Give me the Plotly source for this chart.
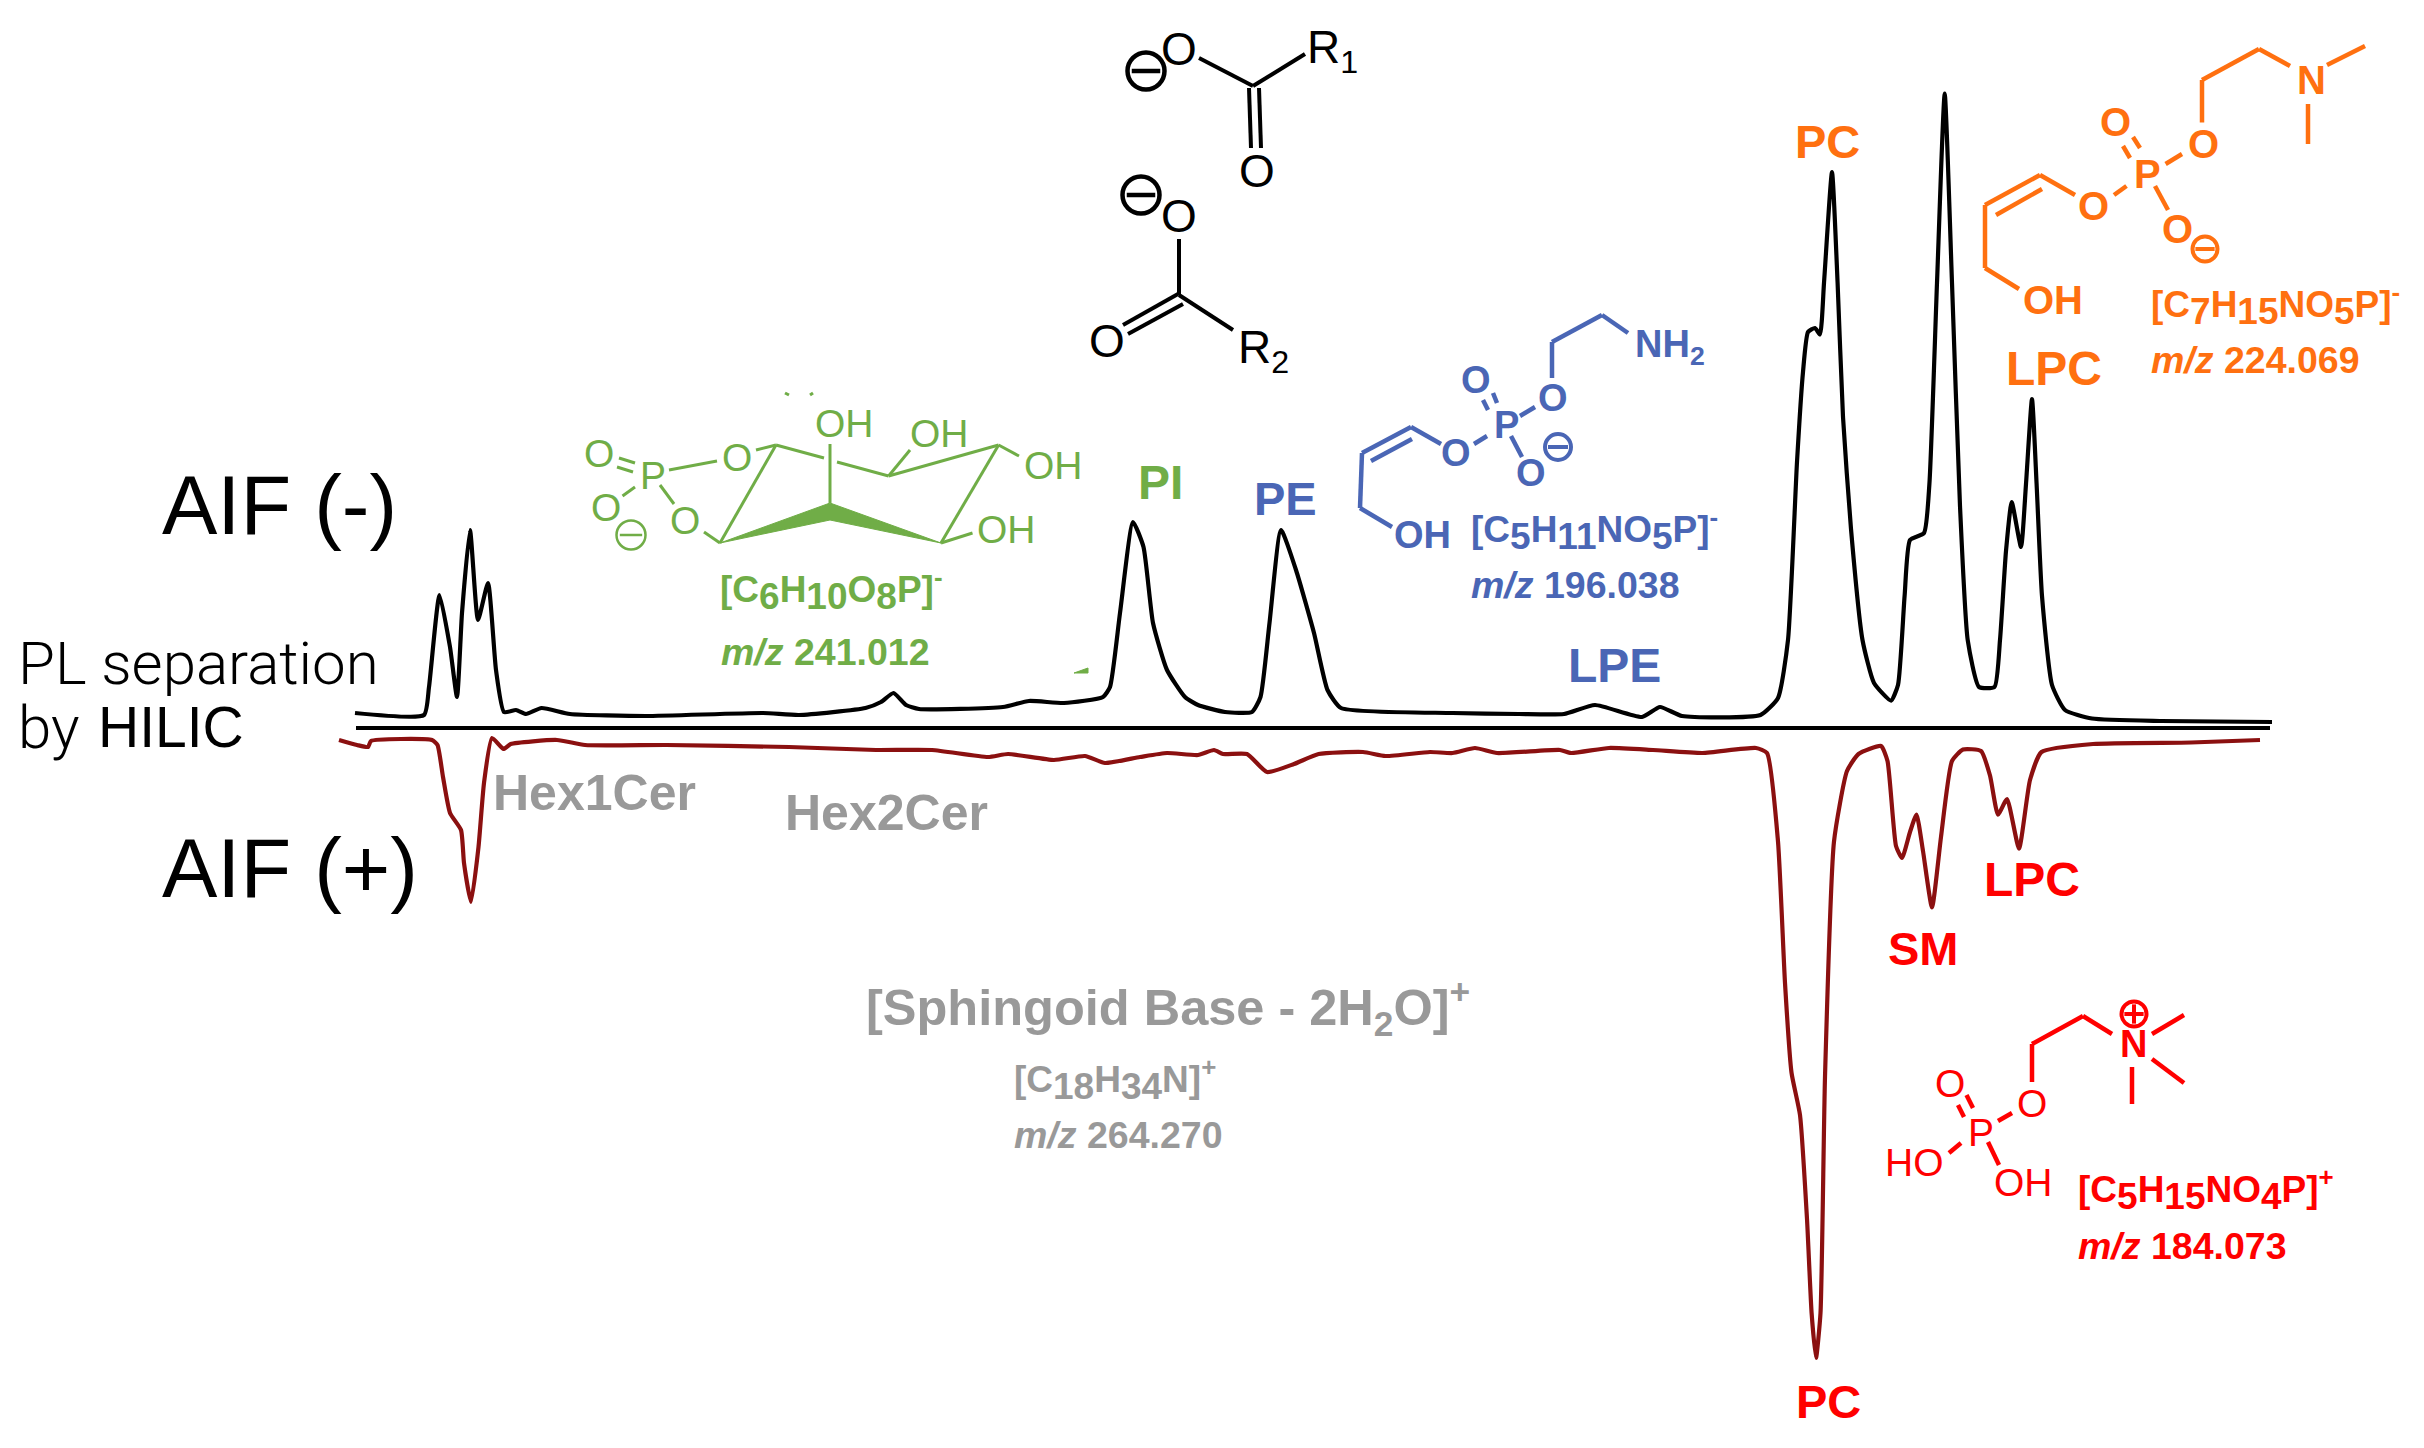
import plotly.graph_objects as go

# ---- chromatogram traces (axis units = image pixels)
neg_x = [355,424,429,439.5,450,457,462,470,478,488,496,504,516,526,541.5,570,646,763,799,865.5,881,893.5,906,919,1003,1029,1064,1103,1110,1120,1133,1143.5,1153,1167,1185,1198,1225,1252,1260.5,1269.5,1281,1296,1314,1327.5,1341,1452.5,1519,1564,1595,1642,1660,1682,1760.5,1778,1788,1797,1803,1808,1815,1820,1824,1832,1837.6,1843,1851,1862.5,1874,1891,1898,1904.6,1910,1924,1929.4,1937,1944.7,1952,1960,1967.7,1979,1994.5,2000,2006,2011.7,2021,2026,2032,2036.6,2042,2052,2065,2092,2161,2272]
neg_y = [713,715,687,595,647,697,613,530,620,583,670,712,710,714,708,714,716,713,715,708,702,693,705,709,707,701,703,697,687,613,522,547,623,670,697,705,712,712,697,623,530,570,633,690,708,713,714,714,705,717,707,716,715,698,640,462,372,332,328,334.5,283,172,283,417,529,640,683,700.6,685,596,540,533,484,283,93.5,283,506,640,687,687,640,551,502,547,484,399,484,596,685,710,718.5,721,722]
pos_x = [339,357,368,371,432,437.5,443,450,461,464,471,478.5,484,492,503.5,510.7,557,585,666.5,789,876,932,988,1008,1054,1085,1105,1140,1167,1198,1214,1223,1247,1267,1294,1318.6,1363,1385.5,1430,1452.5,1475,1497,1560,1571,1609,1653,1702.5,1756,1767,1778,1785,1791.5,1800,1807,1811.6,1816,1820.5,1825,1834,1847,1858.5,1881,1887.5,1896,1902,1910,1916.5,1923,1932,1941,1952,1963,1981,1990,1998,2007,2019,2030,2041.5,2093,2191,2260]
pos_y = [740,745,747,741,740,745,777,813,830,863,902,847,783,738,749,744,740,745,745,747,750,750,757,754,760,756,763,757,753,755,750,754,754,772,764,754,752,756,752,753,748,753,750,753,748,750,753,748,753,841.5,983,1072.6,1115,1219,1313,1358,1313,1077,841.5,771,754,746,761,846,858,832,814.6,851,907.5,837,761,749.5,751,775.5,814.6,799,848.6,780,752,744,742.5,740]
axis_x = [356, 2270]
axis_y = [728, 728]

# ---- colours
BLACK, DARKRED = "#000000", "#8b1010"
GREEN, BLUE, ORANGE, RED, GRAY = "#70ad47", "#4a66b5", "#ff7010", "#ff0000", "#999999"

# ---- structure bonds: ((x1,y1),(x2,y2))
black_bonds = [((1199,58),(1253,86)),((1253,86),(1305,54)),((1249,88),(1251,148)),((1259,88),(1261,148)),
               ((1179,239),(1179,295)),((1179,295),(1233,330)),((1178,294),(1123,325)),((1183,304),(1128,334))]
green_bonds = [((619,458),(635,463)),((617,467),(633,472)),((669,470),(717,461)),((622.5,496),(635,487)),
               ((660,485),(674,504)),((704,532),(720,543)),((720,543),(776,445)),((756,450),(776,445)),
               ((776,445),(824,458)),((837,462),(888.6,476)),((830,444),(830,503)),((888.6,476),(910,450)),
               ((888.6,476),(998.6,445)),((998.6,445),(1019,456)),((998.6,445),(941,543)),((941,543),(972.5,533)),
               ((785,393),(789,395)),((810,395),(813,393))]
green_wedge_x = [720,830,941,830,720]
green_wedge_y = [543,503,543,520,543]
green_speck_x = [1074,1088,1088,1074]
green_speck_y = [673,668,673,673]
blue_bonds = [((1360,508),(1392,527)),((1360,508),(1362,453)),((1362,453),(1411,427)),((1371,461),(1412,439)),
              ((1411,427),(1441,444)),((1474,444),(1487,436)),((1483,400),(1488,410)),((1493,393),(1497,403)),
              ((1520,416),(1535,407)),((1552,378),(1552,342)),((1552,342),(1602,315)),((1602,315),(1628,333)),
              ((1511,436),(1522,457))]
orange_bonds = [((1985,268),(2019,289)),((1985,268),(1985,205)),((1985,205),(2040,175)),((1996,215),(2042,189)),
                ((2040,175),(2075,195)),((2114,195),(2126.5,186)),((2123,146),(2130,158)),((2133,137),(2140,148)),
                ((2165.6,164),(2182,154)),((2155,186),(2168,210)),((2202,122.5),(2202,80)),((2202,80),(2259,49)),
                ((2259,49),(2290,66)),((2327,65),(2365,46)),((2308,104),(2308,144))]
red_bonds = [((2032,1082),(2032,1044)),((2032,1044),(2083,1016)),((2083,1016),(2112,1034)),((2152,1034),(2184,1015)),
             ((2152,1059),(2184,1083)),((2132,1067),(2132,1104)),((1998,1121),(2012,1113)),((1966.5,1095),(1973,1108)),
             ((1958,1105),(1964,1117)),((1949,1153),(1961,1143)),((1988,1142),(1999,1165))]

# ---- charges: x, y, colour, size, line width, minus or plus
charge_x = [1146,1141,631,1558,2205,2134]
charge_y = [71,195,535,447,249,1014]
charge_color = [BLACK,BLACK,GREEN,BLUE,ORANGE,RED]
charge_size = [37,37,29,26,25,25]
charge_lw = [4.5,4.5,2.5,4,4,4]
charge_sign = ["minus","minus","minus","minus","minus","plus"]

def big(s, size):
    return f'<span style="font-size:{size}px">{s}</span>'

def formula(parts, size, sign):
    out = ""
    for p in parts:
        out += f"<sub>{big(p[1:], size)}</sub>" if p.startswith("_") else p
    return f"<b>{out}</b><sup><b>{sign}</b></sup>"

F_SIZE = 37
M_SIZE = 37.5
# ---- text: (text, x, y, colour, size, xanchor, bold)
labels = [
    ("AIF (-)",162,505,BLACK,83,"left",False),
    ("AIF (+)",162,868,BLACK,83,"left",False),
    ("Hex1Cer",594,793,GRAY,50,"center",True),
    ("Hex2Cer",886,813,GRAY,50,"center",True),
    ("PI",1160,482,GREEN,48,"center",True),
    ("PE",1285,498,BLUE,47,"center",True),
    ("LPE",1614,665,BLUE,48,"center",True),
    ("PC",1827,141,ORANGE,47,"center",True),
    ("LPC",2054,368,ORANGE,48,"center",True),
    ("SM",1923,948,RED,47,"center",True),
    ("LPC",2032,879,RED,48,"center",True),
    ("PC",1828,1401,RED,47,"center",True),
    ("[Sphingoid Base - 2H<sub>2</sub>O]<sup>+</sup>",866,1007,GRAY,50.5,"left",True),
    (formula(["[C","_18","H","_34","N]"],F_SIZE,"+"),1014,1080,GRAY,F_SIZE,"left",False),
    ("<b><i>m/z</i> 264.270</b>",1014,1135,GRAY,M_SIZE,"left",False),
    (formula(["[C","_6","H","_10","O","_8","P]"],F_SIZE,"-"),720,590,GREEN,F_SIZE,"left",False),
    ("<b><i>m/z</i> 241.012</b>",721,652,GREEN,M_SIZE,"left",False),
    (formula(["[C","_5","H","_11","NO","_5","P]"],F_SIZE,"-"),1471,530,BLUE,F_SIZE,"left",False),
    ("<b><i>m/z</i> 196.038</b>",1471,585,BLUE,M_SIZE,"left",False),
    (formula(["[C","_7","H","_15","NO","_5","P]"],F_SIZE,"-"),2151,305,ORANGE,F_SIZE,"left",False),
    ("<b><i>m/z</i> 224.069</b>",2151,360,ORANGE,M_SIZE,"left",False),
    (formula(["[C","_5","H","_15","NO","_4","P]"],F_SIZE,"+"),2078,1190,RED,F_SIZE,"left",False),
    ("<b><i>m/z</i> 184.073</b>",2078,1246,RED,M_SIZE,"left",False),
]
atoms = [
    # black
    ("O",1179,49,BLACK,46,False),("O",1257,171,BLACK,46,False),("R<sub>1</sub>",1332,50,BLACK,46,False),
    ("O",1179,216,BLACK,46,False),("O",1107,341,BLACK,46,False),("R<sub>2</sub>",1263,350,BLACK,46,False),
    # green
    ("O",599,453,GREEN,39,False),("P",653,475,GREEN,39,False),("O",606,507,GREEN,39,False),("O",737,457,GREEN,39,False),("O",685,520,GREEN,39,False),
    ("OH",844,423,GREEN,39,False),("OH",939,433,GREEN,39,False),("OH",1053,465,GREEN,39,False),("OH",1006,529,GREEN,39,False),
    # blue
    ("OH",1422,535,BLUE,38,True),("O",1456,453,BLUE,38,True),("P",1506,425,BLUE,38,True),("O",1476,380,BLUE,38,True),
    ("O",1553,398,BLUE,38,True),("O",1531,473,BLUE,38,True),("NH<sub>2</sub>",1670,347,BLUE,38,True),
    # orange
    ("OH",2053,300,ORANGE,40,True),("O",2093,206,ORANGE,40,True),("P",2147.6,174,ORANGE,40,True),("O",2115,122,ORANGE,40,True),
    ("O",2203,144,ORANGE,40,True),("O",2177,229,ORANGE,40,True),("N",2311,80,ORANGE,40,True),
    # red
    ("N",2133,1044,RED,38,True),("O",2032,1103,RED,39,False),("P",1981,1132,RED,39,False),("O",1950,1083,RED,39,False),
    ("HO",1914,1162,RED,39,False),("OH",2023,1182,RED,39,False),
]
light_labels = [("PL separation",18,663,60),("by",18,727,60)]
hilic_label = ("HILIC",98,727,57)

def seg_xy(bonds):
    xs, ys = [], []
    for (a, b) in bonds:
        xs += [a[0], b[0], None]
        ys += [a[1], b[1], None]
    return xs, ys

fig = go.Figure()
fig.add_trace(go.Scatter(x=neg_x, y=neg_y, mode="lines", line=dict(color=BLACK, width=4.2, shape="spline", smoothing=0.5)))
fig.add_trace(go.Scatter(x=axis_x, y=axis_y, mode="lines", line=dict(color=BLACK, width=4)))
fig.add_trace(go.Scatter(x=pos_x, y=pos_y, mode="lines", line=dict(color=DARKRED, width=4.2, shape="spline", smoothing=0.5)))
for bonds, col, w in [(black_bonds,BLACK,4),(green_bonds,GREEN,3),(blue_bonds,BLUE,4.5),(orange_bonds,ORANGE,4.5),(red_bonds,RED,4.5)]:
    x, y = seg_xy(bonds)
    fig.add_trace(go.Scatter(x=x, y=y, mode="lines", line=dict(color=col, width=w)))
for x, y in [(green_wedge_x, green_wedge_y), (green_speck_x, green_speck_y)]:
    fig.add_trace(go.Scatter(x=x, y=y, mode="lines", fill="toself", fillcolor=GREEN, line=dict(color=GREEN, width=1)))
for i in range(len(charge_x)):
    cx, cy, c, s, lw = [charge_x[i]], [charge_y[i]], charge_color[i], charge_size[i], charge_lw[i]
    fig.add_trace(go.Scatter(x=cx, y=cy, mode="markers", marker=dict(symbol="circle-open", size=s, color=c, line=dict(color=c, width=lw))))
    fig.add_trace(go.Scatter(x=cx, y=cy, mode="markers", marker=dict(symbol="line-ew", size=s*0.55, color=c, line=dict(color=c, width=lw))))
    if charge_sign[i] == "plus":
        fig.add_trace(go.Scatter(x=cx, y=cy, mode="markers", marker=dict(symbol="line-ns", size=s*0.55, color=c, line=dict(color=c, width=lw))))

SANS = "Liberation Sans"
def note(text, x, y, col, size, anchor="center", family=SANS, weight=None):
    font = dict(family=family, size=size, color=col)
    if weight:
        font["weight"] = weight
    fig.add_annotation(x=x, y=y, xref="x", yref="y", text=text, showarrow=False, xanchor=anchor, yanchor="middle",
                       font=font, borderpad=0, borderwidth=0)

for t, x, y, c, s, a, b in labels:
    note(f"<b>{t}</b>" if b else t, x, y, c, s, a)
for t, x, y, c, s, b in atoms:
    note(f"<b>{t}</b>" if b else t, x, y, c, s)
for t, x, y, s in light_labels:
    note(t, x, y, BLACK, s, "left", "Roboto", 300)
note(hilic_label[0], hilic_label[1], hilic_label[2], BLACK, hilic_label[3], "left")

# the page keeps an 8 px body margin, so the plot starts at pixel 8 of the window
PAGE_MARGIN = 8
fig.update_layout(width=2424 - PAGE_MARGIN, height=1448 - PAGE_MARGIN, margin=dict(l=0, r=0, t=0, b=0), showlegend=False,
                  paper_bgcolor="white", plot_bgcolor="white",
                  xaxis=dict(range=[PAGE_MARGIN, 2424], visible=False, fixedrange=True),
                  yaxis=dict(range=[1448, PAGE_MARGIN], visible=False, fixedrange=True))
fig.write_html("out.html")
